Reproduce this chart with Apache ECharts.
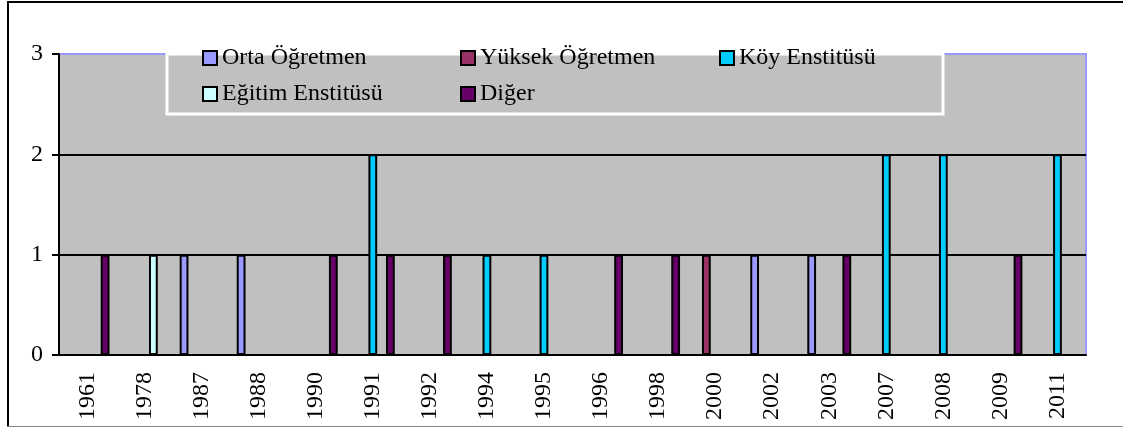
<!DOCTYPE html>
<html>
<head>
<meta charset="utf-8">
<script src="https://cdn.jsdelivr.net/npm/echarts@6/dist/echarts.min.js"></script>
<style>
  html, body { margin: 0; padding: 0; background: #fff; }
  #chart { width: 1123px; height: 428px; }
</style>
</head>
<body>
<div id="chart"></div>
<script>
// yıllar
var categories = ['1961', '1978', '1987', '1988', '1990', '1991', '1992', '1994', '1995',
  '1996', '1998', '2000', '2002', '2003', '2007', '2008', '2009', '2011'];
var ortaOgretmen = [0, 0, 1, 1, 0, 0, 0, 0, 0, 0, 0, 0, 1, 1, 0, 0, 0, 0];
var yuksekOgretmen = [0, 0, 0, 0, 0, 0, 0, 0, 0, 0, 0, 1, 0, 0, 0, 0, 0, 0];
var koyEnstitusu = [0, 0, 0, 0, 0, 2, 0, 1, 1, 0, 0, 0, 0, 0, 2, 2, 0, 2];
var egitimEnstitusu = [0, 1, 0, 0, 0, 0, 0, 0, 0, 0, 0, 0, 0, 0, 0, 0, 0, 0];
var diger = [1, 0, 0, 0, 1, 1, 1, 0, 0, 1, 1, 0, 0, 1, 0, 0, 1, 0];
var yTicks = [0, 1, 2, 3];

var font = '"Liberation Serif", serif';
var fs = 24;

function bar(name, data, color) {
  return {
    name: name,
    type: 'bar',
    data: data,
    barGap: '0%',
    barCategoryGap: '23%',
    itemStyle: { color: color, borderColor: '#000', borderWidth: 2 }
  };
}

function legendAt(name, left, top) {
  return {
    data: [name],
    left: left,
    top: top,
    padding: 0,
    itemWidth: 14,
    itemHeight: 14,
    icon: 'rect',
    itemStyle: { borderColor: '#000', borderWidth: 2 },
    textStyle: { fontFamily: font, fontSize: fs, color: '#000', lineHeight: 20 }
  };
}

var myChart = echarts.init(document.getElementById('chart'));
myChart.setOption({
  animation: false,
  grid: {
    left: 59, right: 37, top: 54, bottom: 73,
    show: true,
    backgroundColor: '#C0C0C0',
    borderColor: '#9999FF',
    borderWidth: 2
  },
  legend: [
    legendAt('Orta Öğretmen', 202, 46),
    legendAt('Yüksek Öğretmen', 460, 46),
    legendAt('Köy Enstitüsü', 719, 46),
    legendAt('Eğitim Enstitüsü', 202, 82),
    legendAt('Diğer', 460, 82)
  ],
  xAxis: {
    type: 'category',
    data: categories,
    axisLine: { lineStyle: { color: '#000', width: 2 } },
    axisTick: { length: 7, lineStyle: { color: '#000', width: 2 } },
    axisLabel: { rotate: 90, margin: 17, color: '#000', fontFamily: font, fontSize: fs }
  },
  yAxis: {
    type: 'value',
    min: yTicks[0],
    max: yTicks[yTicks.length - 1],
    interval: 1,
    axisLine: { show: true, lineStyle: { color: '#000', width: 2 } },
    axisTick: { show: true, length: 7, lineStyle: { color: '#000', width: 2 } },
    axisLabel: { margin: 16, color: '#000', fontFamily: font, fontSize: fs },
    splitLine: { lineStyle: { color: ['#000', '#000', '#000', '#9999FF'], width: 2 } }
  },
  graphic: [
    // legend kutusu (yazıların altında kalsın)
    { type: 'rect', z: 1, shape: { x: 167, y: 54, width: 776, height: 60 },
      style: { fill: null, stroke: '#fff', lineWidth: 3 } },
    // dış çerçeve
    { type: 'line', z: 100, shape: { x1: 8, y1: 2, x2: 8, y2: 426 }, style: { stroke: '#000', lineWidth: 2 } },
    { type: 'line', z: 100, shape: { x1: 7, y1: 2, x2: 1123, y2: 2 }, style: { stroke: '#000', lineWidth: 2 } },
    { type: 'line', z: 100, shape: { x1: 7, y1: 426.5, x2: 1123, y2: 426.5 }, style: { stroke: '#888', lineWidth: 1 } }
  ],
  series: [
    bar('Orta Öğretmen', ortaOgretmen, '#9999FF'),
    bar('Yüksek Öğretmen', yuksekOgretmen, '#993366'),
    bar('Köy Enstitüsü', koyEnstitusu, '#00CCFF'),
    bar('Eğitim Enstitüsü', egitimEnstitusu, '#CCFFFF'),
    bar('Diğer', diger, '#660066')
  ]
});
</script>
</body>
</html>
